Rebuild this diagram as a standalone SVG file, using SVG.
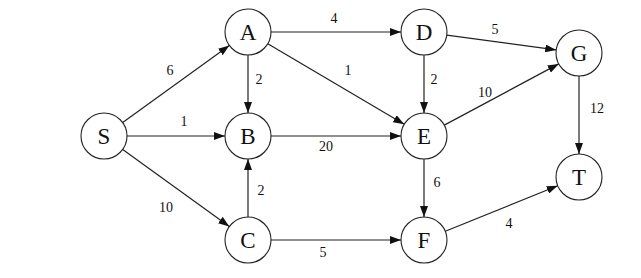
<svg xmlns="http://www.w3.org/2000/svg" width="641" height="278" viewBox="0 0 641 278">
<style>
.node circle{fill:#fff;stroke:#222;stroke-width:1.1}
.node text{font-family:"Liberation Serif","DejaVu Serif",serif;font-size:23px;fill:#111;text-anchor:middle}
.edges line{stroke:#222;stroke-width:1.2;marker-end:url(#arr)}
.lbl{font-family:"Liberation Serif","DejaVu Serif",serif;font-size:14px;fill:#111;text-anchor:middle}
</style>
<defs>
<marker id="arr" markerUnits="userSpaceOnUse" markerWidth="11" markerHeight="8" refX="11" refY="4" orient="auto">
<path d="M0,0 L11,4 L0,8 z" fill="#111"/>
</marker>
</defs>
<rect width="641" height="278" fill="#fff"/>
<g class="edges">
<line x1="122.7" y1="122.5" x2="229.3" y2="45.5"/>
<line x1="127" y1="136" x2="225" y2="136"/>
<line x1="122.7" y1="149.5" x2="229.3" y2="226.5"/>
<line x1="271" y1="32" x2="401" y2="32"/>
<line x1="248" y1="55" x2="248" y2="113"/>
<line x1="267.8" y1="43.7" x2="404.2" y2="124.3"/>
<line x1="424" y1="55" x2="424" y2="113"/>
<line x1="446.8" y1="35.1" x2="556.2" y2="49.9"/>
<line x1="271" y1="136" x2="401" y2="136"/>
<line x1="248" y1="217" x2="248" y2="159"/>
<line x1="271" y1="240" x2="401" y2="240"/>
<line x1="444.3" y1="125.1" x2="558.7" y2="63.9"/>
<line x1="424" y1="159" x2="424" y2="217"/>
<line x1="579" y1="76" x2="579" y2="154"/>
<line x1="445.3" y1="231.3" x2="557.7" y2="185.7"/>
</g>
<g class="labels">
<text class="lbl" x="334" y="23">4</text>
<text class="lbl" x="495" y="34">5</text>
<text class="lbl" x="170" y="75">6</text>
<text class="lbl" x="259" y="84">2</text>
<text class="lbl" x="348" y="75">1</text>
<text class="lbl" x="434" y="84">2</text>
<text class="lbl" x="485" y="97">10</text>
<text class="lbl" x="597" y="113">12</text>
<text class="lbl" x="184" y="126">1</text>
<text class="lbl" x="326" y="151">20</text>
<text class="lbl" x="166" y="212">10</text>
<text class="lbl" x="261" y="195">2</text>
<text class="lbl" x="437" y="187">6</text>
<text class="lbl" x="323" y="257">5</text>
<text class="lbl" x="509" y="228">4</text>
</g>
<g id="node-S" class="node"><circle cx="104" cy="136" r="23"/><text x="104" y="144">S</text></g>
<g id="node-A" class="node"><circle cx="248" cy="32" r="23"/><text x="248" y="40">A</text></g>
<g id="node-B" class="node"><circle cx="248" cy="136" r="23"/><text x="248" y="144">B</text></g>
<g id="node-C" class="node"><circle cx="248" cy="240" r="23"/><text x="248" y="248">C</text></g>
<g id="node-D" class="node"><circle cx="424" cy="32" r="23"/><text x="424" y="40">D</text></g>
<g id="node-E" class="node"><circle cx="424" cy="136" r="23"/><text x="424" y="144">E</text></g>
<g id="node-F" class="node"><circle cx="424" cy="240" r="23"/><text x="424" y="248">F</text></g>
<g id="node-G" class="node"><circle cx="579" cy="53" r="23"/><text x="579" y="61">G</text></g>
<g id="node-T" class="node"><circle cx="579" cy="177" r="23"/><text x="579" y="185">T</text></g>
</svg>
